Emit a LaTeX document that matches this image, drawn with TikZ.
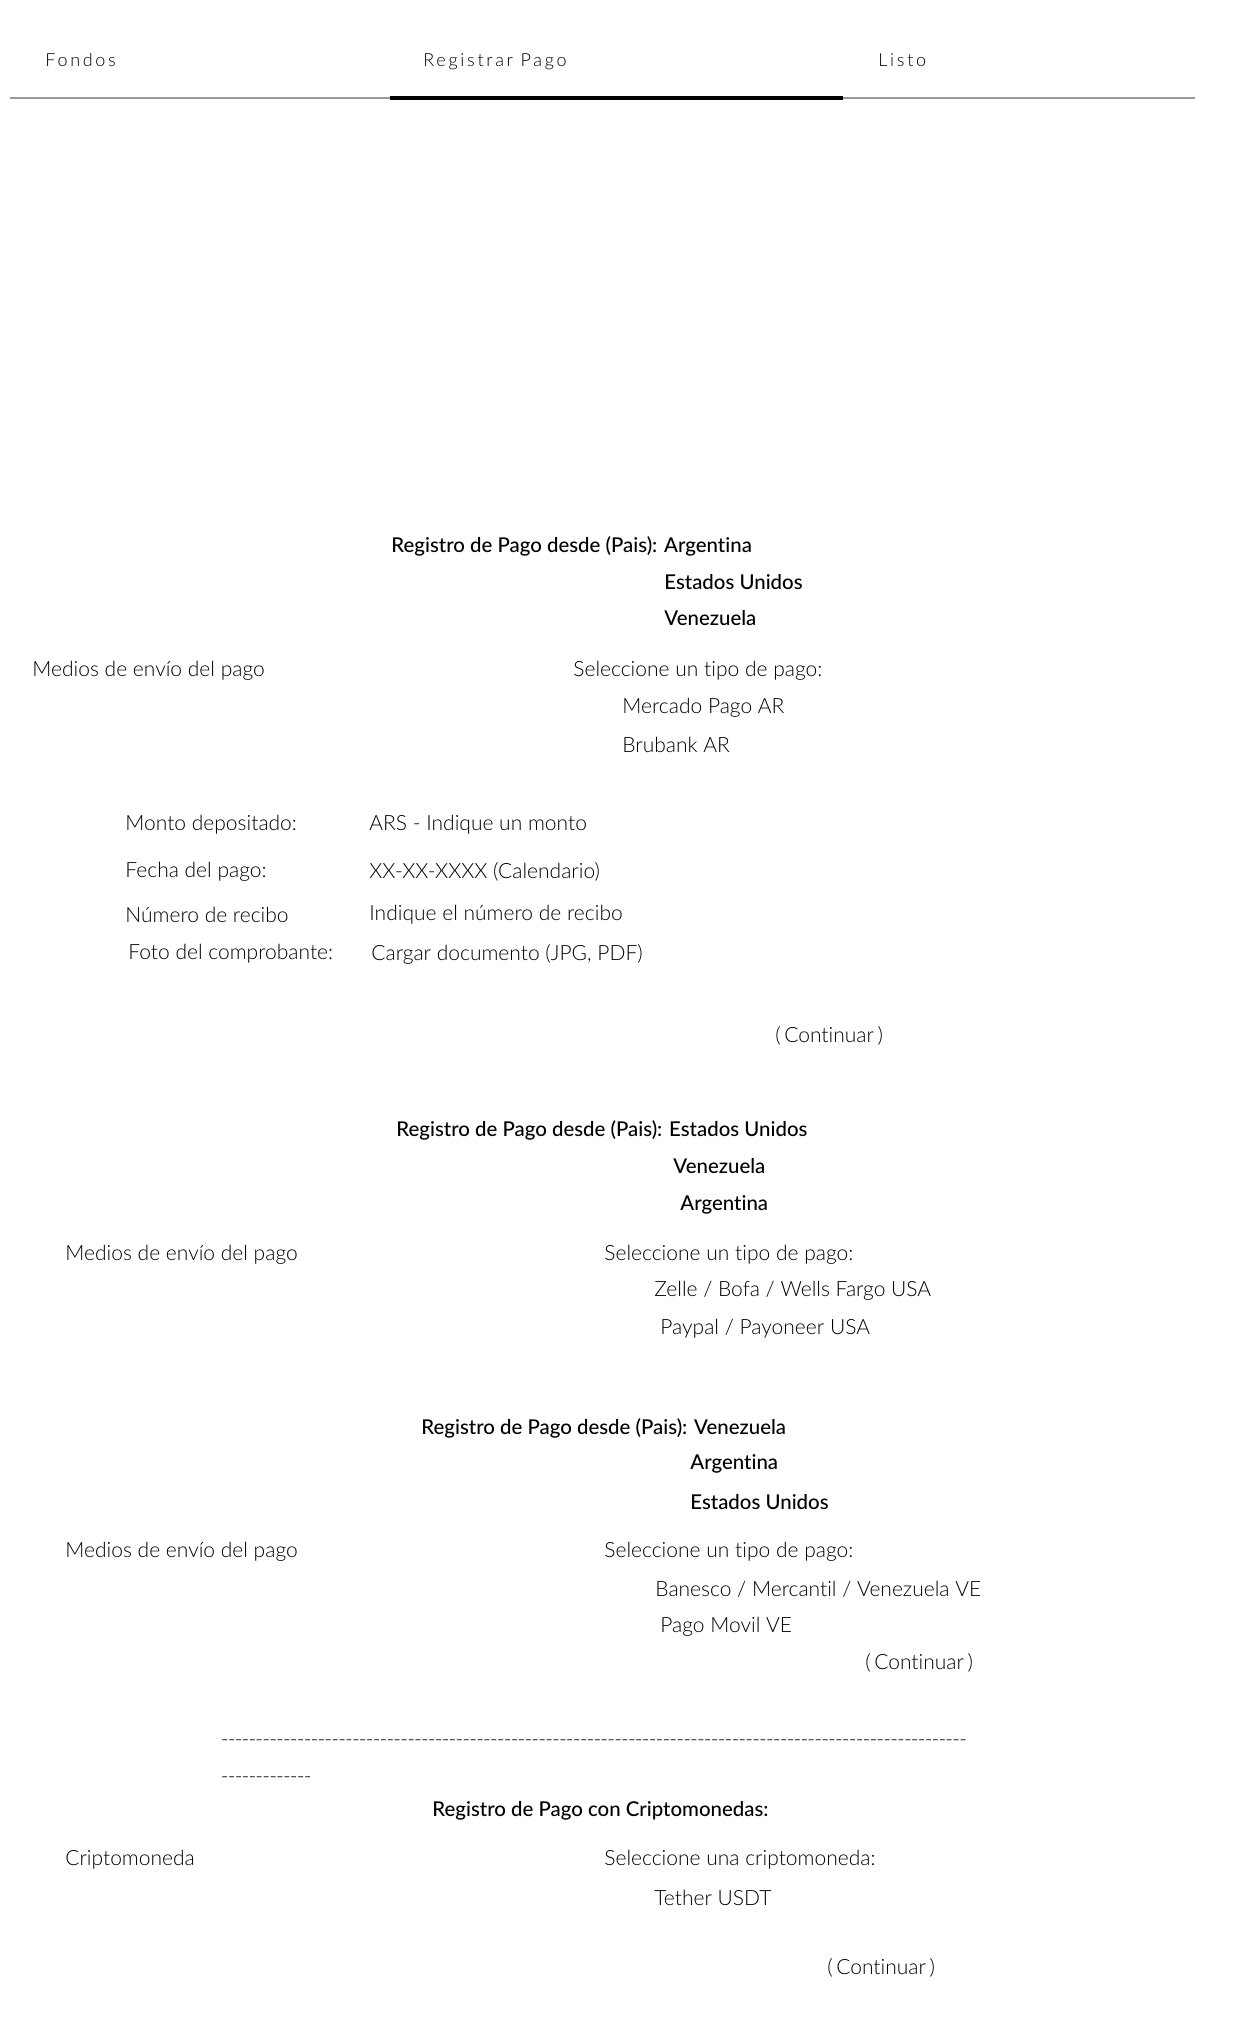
\documentclass[tikz,border=0pt]{standalone}
\usepackage{fontspec}
\setmainfont{Lato Light}[Ligatures={NoCommon}]
\newfontfamily\mdfont{Lato Medium}[Ligatures={NoCommon}]
\newfontfamily\navfont{Lato Light}[LetterSpace=15,Ligatures={NoCommon}]
\tikzset{
  body/.style={anchor=west, inner sep=0pt, font=\fontsize{10.5}{12}\selectfont},
  head/.style={anchor=west, inner sep=0pt, font=\mdfont\fontsize{10.2}{12}\selectfont},
  nav/.style={anchor=base west, inner sep=0pt, font=\navfont\fontsize{9}{11}\selectfont},
  btn/.style={anchor=west, inner sep=0pt, font=\fontsize{10.5}{12}\selectfont},
  dashrow/.style={anchor=west, inner sep=0pt, font=\fontsize{10.5}{12}\selectfont}
}
\newcommand\hyrow[1]{\foreach \i in {1,...,#1}{\makebox[3.45pt]{-}}}
\begin{document}
\begin{tikzpicture}[x=0.5pt,y=-0.5pt]
\useasboundingbox (0,0) rectangle (1240,2035);
% navigation
\node[nav] (nav1) at (45,66) {Fondos};
\node[nav] (nav2) at (423,66) {Registrar Pago};
\node[nav] (nav3) at (878,66) {Listo};
\coordinate (la) at (10,98);
\coordinate (lb) at (390,98);
\coordinate (lc) at (843,98);
\coordinate (ld) at (1195,98);
\draw[line width=1.3pt, gray!80] (la) -- (ld);
\draw[line width=1.8pt, black] (lb) -- (lc);
% Argentina section
\node[head] (t1) at (391,546) {Registro de Pago desde (Pais): Argentina};
\node[head] (t1b) at (664,582) {Estados Unidos};
\node[head] (t1c) at (664,618) {Venezuela};
\node[body] (m1) at (32,671) {Medios de envío del pago};
\node[body] (s1) at (573,671) {Seleccione un tipo de pago:};
\node[body] (s1a) at (622,708) {Mercado Pago AR};
\node[body] (s1b) at (622,745) {Brubank AR};
\node[body] (f1) at (125,825) {Monto depositado:};
\node[body] (v1) at (369,825) {ARS - Indique un monto};
\node[body] (f2) at (125,872) {Fecha del pago:};
\node[body] (v2) at (369,872) {XX-XX-XXXX (Calendario)};
\node[body] (f3) at (125,915) {Número de recibo};
\node[body] (v3) at (369,915) {Indique el número de recibo};
\node[body] (f4) at (128,954) {Foto del comprobante:};
\node[body] (v4) at (371,954) {Cargar documento (JPG, PDF)};
\node[btn] (c1) at (775,1036) {(\,Continuar\,)};
% Estados Unidos section
\node[head] (t2) at (396,1130) {Registro de Pago desde (Pais): Estados Unidos};
\node[head] (t2b) at (673,1166) {Venezuela};
\node[head] (t2c) at (680,1205) {Argentina};
\node[body] (m2) at (65,1255) {Medios de envío del pago};
\node[body] (s2) at (604,1255) {Seleccione un tipo de pago:};
\node[body] (s2a) at (654,1291) {Zelle / Bofa / Wells Fargo USA};
\node[body] (s2b) at (660,1329) {Paypal / Payoneer USA};
% Venezuela section
\node[head] (t3) at (421,1428) {Registro de Pago desde (Pais): Venezuela};
\node[head] (t3b) at (690,1464) {Argentina};
\node[head] (t3c) at (690,1502) {Estados Unidos};
\node[body] (m3) at (65,1552) {Medios de envío del pago};
\node[body] (s3) at (604,1552) {Seleccione un tipo de pago:};
\node[body] (s3a) at (655,1589) {Banesco / Mercantil / Venezuela VE};
\node[body] (s3b) at (660,1627) {Pago Movil VE};
\node[btn] (c2) at (865,1663) {(\,Continuar\,)};
% separator
\node[dashrow] (d1) at (221,1743) {\hyrow{108}};
\node[dashrow] (d2) at (221,1780) {\hyrow{13}};
% Crypto section
\node[head] (t4) at (432,1811) {Registro de Pago con Criptomonedas:};
\node[body] (m4) at (65,1860) {Criptomoneda};
\node[body] (s4) at (604,1860) {Seleccione una criptomoneda:};
\node[body] (s4a) at (654,1898) {Tether USDT};
\node[btn] (c3) at (827,1968) {(\,Continuar\,)};
\end{tikzpicture}
\end{document}
